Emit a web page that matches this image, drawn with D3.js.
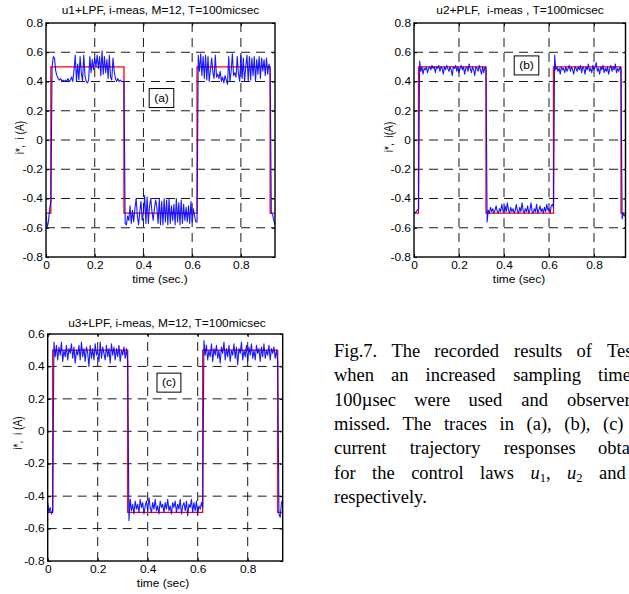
<!DOCTYPE html>
<html>
<head>
<meta charset="utf-8">
<script src="https://cdn.jsdelivr.net/npm/d3@7"></script>
<style>
  html, body { margin: 0; padding: 0; background: #fff; overflow: hidden; }
  svg { display: block; }
</style>
</head>
<body>
<div id="fig"></div>
<script>
const width = 629;
const height = 594;

// sampling of the measured current traces
const dt = 0.005;
const tEnd = 0.94;

// reference i* (square wave)
const refTimes = [0, 0.02, 0.32, 0.62, 0.92, 0.94];
const refLevels = [-0.5, 0.5, -0.5, 0.5, -0.5, -0.5];

// measured i, one value every dt
const blueA = [
  -0.50,-0.60,-0.56,-0.47,-0.42,0.50,0.57,0.56,0.47,0.44,
  0.42,0.41,0.42,0.40,0.41,0.40,0.41,0.40,0.42,0.40,
  0.41,0.43,0.40,0.48,0.58,0.40,0.52,0.41,0.57,0.46,
  0.40,0.58,0.44,0.40,0.39,0.41,0.57,0.46,0.55,0.48,
  0.56,0.50,0.58,0.49,0.57,0.44,0.61,0.45,0.57,0.46,
  0.55,0.42,0.58,0.43,0.41,0.56,0.47,0.42,0.40,0.42,
  0.40,0.41,0.40,0.40,0.40,-0.57,-0.58,-0.52,-0.55,-0.45,
  -0.57,-0.48,-0.56,-0.47,-0.40,-0.52,-0.58,-0.49,-0.42,-0.55,
  -0.50,-0.38,-0.57,-0.39,-0.57,-0.45,-0.40,-0.49,-0.55,-0.47,
  -0.41,-0.46,-0.57,-0.40,-0.58,-0.42,-0.58,-0.40,-0.56,-0.41,
  -0.58,-0.40,-0.57,-0.45,-0.55,-0.44,-0.58,-0.40,-0.56,-0.43,
  -0.58,-0.41,-0.57,-0.44,-0.55,-0.46,-0.56,-0.45,-0.57,-0.42,
  -0.56,-0.47,-0.52,-0.56,-0.56,0.58,0.47,0.59,0.44,0.57,
  0.42,0.58,0.41,0.57,0.40,0.48,0.56,0.46,0.42,0.58,
  0.43,0.45,0.42,0.47,0.40,0.43,0.39,0.44,0.41,0.38,
  0.57,0.40,0.47,0.59,0.44,0.46,0.43,0.57,0.45,0.40,
  0.58,0.42,0.56,0.40,0.50,0.58,0.40,0.57,0.41,0.56,
  0.44,0.57,0.40,0.55,0.45,0.57,0.42,0.56,0.47,0.55,
  0.44,0.56,0.45,0.52,0.48,-0.50,-0.51,-0.55,-0.58
];
const blueB = [
  -0.50,-0.50,-0.49,-0.48,-0.47,0.54,0.47,0.50,0.45,0.49,
  0.48,0.50,0.46,0.49,0.50,0.48,0.51,0.49,0.50,0.46,
  0.50,0.49,0.51,0.47,0.50,0.49,0.45,0.50,0.48,0.51,
  0.49,0.47,0.50,0.48,0.44,0.50,0.49,0.51,0.47,0.50,
  0.46,0.49,0.51,0.48,0.50,0.45,0.49,0.50,0.47,0.52,
  0.49,0.46,0.50,0.48,0.44,0.50,0.49,0.47,0.51,0.48,
  0.45,0.50,0.46,0.50,0.49,-0.56,-0.48,-0.50,-0.46,-0.49,
  -0.47,-0.50,-0.48,-0.45,-0.49,-0.50,-0.47,-0.49,-0.44,-0.48,
  -0.50,-0.45,-0.49,-0.43,-0.48,-0.50,-0.46,-0.49,-0.47,-0.50,
  -0.48,-0.44,-0.49,-0.50,-0.46,-0.49,-0.43,-0.48,-0.50,-0.47,
  -0.49,-0.45,-0.50,-0.48,-0.43,-0.49,-0.50,-0.47,-0.49,-0.44,
  -0.50,-0.48,-0.45,-0.49,-0.47,-0.50,-0.46,-0.49,-0.44,-0.48,
  -0.47,-0.50,-0.45,-0.44,-0.46,0.58,0.48,0.50,0.47,0.49,
  0.45,0.50,0.48,0.49,0.46,0.50,0.47,0.49,0.51,0.47,
  0.50,0.48,0.45,0.50,0.49,0.47,0.50,0.48,0.51,0.46,
  0.50,0.49,0.45,0.50,0.48,0.52,0.47,0.49,0.46,0.51,
  0.48,0.50,0.53,0.47,0.49,0.45,0.50,0.48,0.51,0.46,
  0.49,0.47,0.50,0.45,0.49,0.51,0.47,0.50,0.48,0.52,
  0.46,0.49,0.47,0.50,0.48,-0.54,-0.50,-0.52,-0.51
];
const blueC = [
  -0.44,-0.50,-0.47,-0.51,-0.49,0.55,0.46,0.53,0.44,0.52,
  0.47,0.55,0.43,0.50,0.46,0.53,0.44,0.51,0.48,0.54,
  0.45,0.52,0.42,0.50,0.47,0.53,0.44,0.55,0.46,0.51,
  0.43,0.52,0.48,0.40,0.53,0.45,0.51,0.44,0.54,0.47,
  0.50,0.43,0.55,0.45,0.52,0.48,0.44,0.53,0.46,0.51,
  0.42,0.54,0.47,0.52,0.44,0.51,0.46,0.53,0.43,0.50,
  0.47,0.52,0.45,0.51,0.43,-0.55,-0.42,-0.49,-0.45,-0.51,
  -0.43,-0.48,-0.45,-0.50,-0.42,-0.47,-0.44,-0.51,-0.46,-0.43,
  -0.49,-0.41,-0.47,-0.50,-0.44,-0.48,-0.42,-0.49,-0.46,-0.51,
  -0.43,-0.47,-0.45,-0.50,-0.44,-0.48,-0.42,-0.49,-0.46,-0.51,
  -0.44,-0.47,-0.43,-0.50,-0.45,-0.48,-0.42,-0.51,-0.46,-0.44,
  -0.49,-0.43,-0.52,-0.45,-0.47,-0.42,-0.50,-0.44,-0.49,-0.43,
  -0.51,-0.46,-0.48,-0.44,-0.47,0.56,0.47,0.53,0.44,0.50,
  0.46,0.54,0.43,0.51,0.47,0.53,0.45,0.50,0.42,0.52,
  0.48,0.55,0.44,0.51,0.46,0.53,0.43,0.50,0.47,0.54,
  0.45,0.52,0.41,0.51,0.48,0.55,0.44,0.50,0.46,0.53,
  0.43,0.52,0.47,0.54,0.45,0.50,0.44,0.53,0.48,0.51,
  0.43,0.52,0.46,0.54,0.45,0.50,0.47,0.53,0.44,0.51,
  0.48,0.52,0.45,0.50,0.43,-0.51,-0.53,-0.44,-0.42
];

const xTicks = [0, 0.2, 0.4, 0.6, 0.8];
const yTicksAB = [-0.8, -0.6, -0.4, -0.2, 0, 0.2, 0.4, 0.6, 0.8];
const yTicksC = [-0.8, -0.6, -0.4, -0.2, 0, 0.2, 0.4, 0.6];

const titles = ["u1+LPF, i-meas, M=12, T=100micsec", "u2+PLF,  i-meas , T=100micsec", "u3+LPF, i-meas, M=12, T=100micsec"];
const xLabels = ["time (sec.)", "time (sec)", "time (sec)"];
const yLabels = ["i*,  i (A)", "i*,  i(A)", "i*,  i (A)"];
const tags = ["(a)", "(b)", "(c)"];

const captionLines = [
  ["Fig.7.", "The", "recorded", "results", "of", "Test"],
  ["when", "an", "increased", "sampling", "time"],
  ["100\u00b5sec", "were", "used", "and", "observer"],
  ["missed.", "The", "traces", "in", "(a),", "(b),", "(c)"],
  ["current", "trajectory", "responses", "obtained"],
  ["for", "the", "control", "laws", "u1,", "u2", "and"],
  ["respectively."]
];

// layout (pixels)
const panelsLayout = [
  { blue: blueA, yTicks: yTicksAB, left: 46, right: 275, top: 23, bottom: 257,
    titleX: 160.5, titleY: 14, xlabelX: 160, xlabelY: 283, ylabelX: 24, ylabelY: 137.5, tagT: 0.474, tagV: 0.287 },
  { blue: blueB, yTicks: yTicksAB, left: 414, right: 625.5, top: 23, bottom: 257,
    titleX: 520, titleY: 14, xlabelX: 519, xlabelY: 283, ylabelX: 393, ylabelY: 137, tagT: 0.50, tagV: 0.51 },
  { blue: blueC, yTicks: yTicksC, left: 47.7, right: 282.7, top: 334, bottom: 561,
    titleX: 167, titleY: 327, xlabelX: 163, xlabelY: 587, ylabelX: 22, ylabelY: 433, tagT: 0.485, tagV: 0.30 }
];
const captionLayout = { x: 334, y: 357, lineStep: 24.3, anchors: [[5, 607], [4, 598], [4, 567], [6, 603], [3, 598], [6, 599], null] };

const sx = 1.17; // horizontal stretch of the original figure text
const fontSans = "'Liberation Sans', Arial, sans-serif";
const fontSize = 10.2;
const fmt = d => d === 0 ? "0" : d.toFixed(1);

const svg = d3.select("#fig")
  .append("svg")
  .attr("width", width)
  .attr("height", height)
  .style("background", "white");

const defs = svg.append("defs");

panelsLayout.forEach((L, k) => {
  const x = d3.scaleLinear().domain([0, tEnd]).range([L.left, L.right]);
  const y = d3.scaleLinear().domain(d3.extent(L.yTicks)).range([L.bottom, L.top]);
  const g = svg.append("g");

  defs.append("clipPath").attr("id", "clip" + k)
    .append("rect")
    .attr("x", L.left).attr("y", L.top)
    .attr("width", L.right - L.left).attr("height", L.bottom - L.top);

  // dashed grid
  const grid = g.append("g")
    .attr("stroke", "#1a1a1a")
    .attr("stroke-width", 1)
    .attr("stroke-dasharray", "9,6");
  grid.selectAll(".gx").data(xTicks.filter(d => d > 0)).join("line")
    .attr("x1", d => x(d)).attr("x2", d => x(d))
    .attr("y1", L.bottom).attr("y2", L.top);
  grid.selectAll(".gy").data(L.yTicks.slice(1, -1)).join("line")
    .attr("y1", d => y(d)).attr("y2", d => y(d))
    .attr("x1", L.left).attr("x2", L.right);

  // traces
  const plot = g.append("g").attr("clip-path", `url(#clip${k})`);
  const refLine = d3.line().curve(d3.curveStepAfter).x(d => x(d[0])).y(d => y(d[1]));
  plot.append("path")
    .attr("d", refLine(refTimes.map((t, i) => [t, refLevels[i]])))
    .attr("fill", "none").attr("stroke", "#ff0000").attr("stroke-width", 1.3);
  const measLine = d3.line().x((d, i) => x(i * dt)).y(d => y(d));
  plot.append("path")
    .attr("d", measLine(L.blue))
    .attr("fill", "none").attr("stroke", "#0000ff").attr("stroke-width", 1.1)
    .attr("stroke-opacity", 0.9).attr("stroke-linejoin", "round");

  // axes (ticks point inward)
  const axes = [
    [d3.axisBottom(x).tickValues(xTicks).tickFormat(fmt), `translate(0,${L.bottom})`, true],
    [d3.axisLeft(y).tickValues(L.yTicks).tickFormat(fmt), `translate(${L.left},0)`, true],
    [d3.axisTop(x).tickValues(xTicks).tickFormat(""), `translate(0,${L.top})`, false],
    [d3.axisRight(y).tickValues(L.yTicks).tickFormat(""), `translate(${L.right},0)`, false]
  ];
  axes.forEach(([ax, tr, labelled], j) => {
    const a = g.append("g").attr("transform", tr)
      .call(ax.tickSizeInner(-3).tickSizeOuter(0).tickPadding(j === 0 ? 5 : 3));
    a.select(".domain").remove();
    a.selectAll("line").attr("stroke", "#000");
    if (labelled) {
      a.selectAll("text")
        .attr("fill", "#000")
        .style("font-family", fontSans)
        .style("font-size", fontSize + "px")
        .attr("transform", `scale(${sx},1)`)
        .attr("x", function () { return +d3.select(this).attr("x") / sx; });
    }
  });

  // frame
  g.append("rect")
    .attr("x", L.left).attr("y", L.top)
    .attr("width", L.right - L.left).attr("height", L.bottom - L.top)
    .attr("fill", "none").attr("stroke", "#000").attr("stroke-width", 1.4);

  const addText = (str, tx, ty, extra) => g.append("text")
    .attr("transform", `translate(${tx},${ty}) ${extra || ""}`)
    .attr("text-anchor", "middle")
    .style("font-family", fontSans)
    .style("font-size", fontSize + "px")
    .style("white-space", "pre")
    .attr("fill", "#000")
    .text(str);

  addText(titles[k], L.titleX, L.titleY, `scale(${sx},1)`);
  addText(xLabels[k], L.xlabelX, L.xlabelY, `scale(${sx},1)`);
  addText(yLabels[k], L.ylabelX, L.ylabelY, `rotate(-90) scale(1,${sx})`);

  // tag box
  const tx = x(L.tagT), ty = y(L.tagV);
  const tag = addText(tags[k], tx, ty + 3.6, `scale(${sx},1)`);
  const bw = tag.node().getComputedTextLength() * sx + 10;
  g.insert("rect", () => tag.node())
    .attr("x", tx - bw / 2).attr("y", ty - 9.5)
    .attr("width", bw).attr("height", 19)
    .attr("fill", "white").attr("stroke", "#000").attr("stroke-width", 1);
});

// caption, justified like the printed text
const cap = svg.append("g")
  .style("font-family", "'Liberation Serif', 'Times New Roman', serif")
  .style("font-size", "18.5px")
  .attr("fill", "#000");

function addWord(parent, w, px, py) {
  const t = parent.append("text").attr("x", px).attr("y", py);
  const m = /^u(\d)(.*)$/.exec(w);
  if (m) {
    t.append("tspan").style("font-style", "italic").text("u");
    t.append("tspan").attr("dy", 3.5).style("font-size", "12.5px").text(m[1]);
    if (m[2]) t.append("tspan").attr("dy", -3.5).text(m[2]);
  } else {
    t.text(w);
  }
  return t;
}

const probe = cap.append("text").attr("x", -1000).attr("y", -1000).style("white-space", "pre").text("a a");
const probeW = probe.node().getComputedTextLength();
probe.text("aa");
const spaceW = probeW - probe.node().getComputedTextLength();
probe.remove();

captionLines.forEach((words, li) => {
  const py = captionLayout.y + li * captionLayout.lineStep;
  const widths = words.map(w => {
    const t = addWord(cap, w, -1000, -1000);
    const bw = t.node().getBBox().width;
    t.remove();
    return bw;
  });
  let gap = spaceW;
  const anchor = captionLayout.anchors[li];
  if (anchor) {
    const [ai, target] = anchor;
    const before = d3.sum(widths.slice(0, ai));
    gap = (target - captionLayout.x - before) / ai;
  }
  let cx = captionLayout.x;
  words.forEach((w, wi) => {
    addWord(cap, w, cx, py);
    cx += widths[wi] + gap;
  });
});
</script>
</body>
</html>
